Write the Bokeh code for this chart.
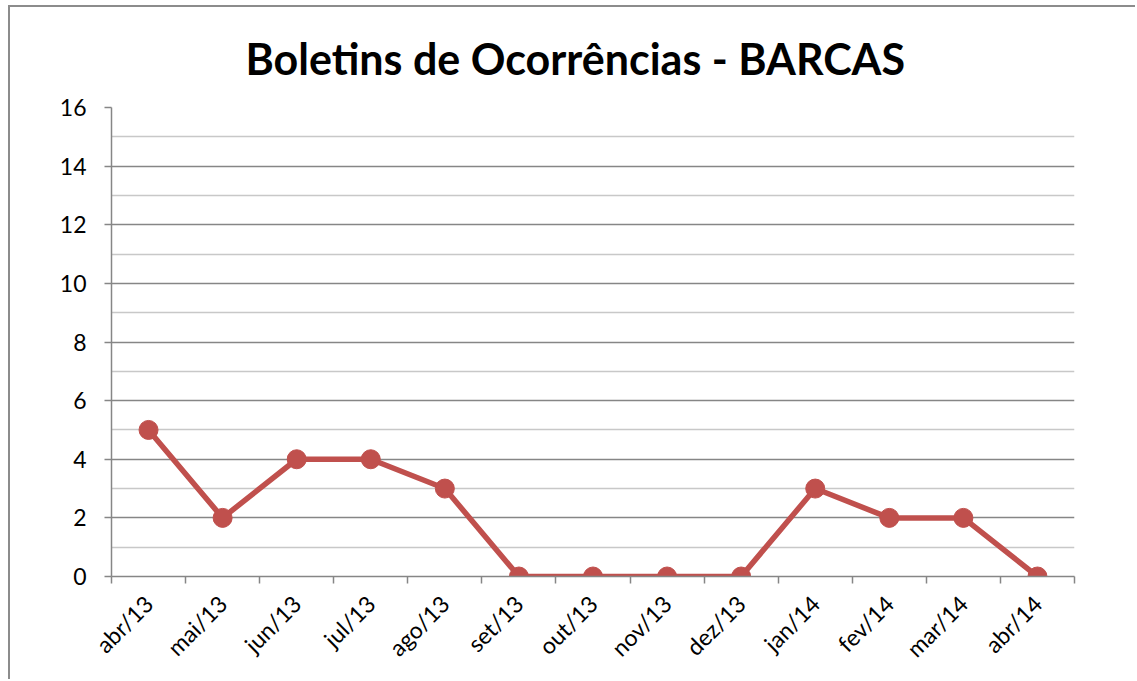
from bokeh.plotting import figure
from bokeh.models import Range1d, FixedTicker, Title
from bokeh.embed import file_html
from bokeh.resources import INLINE
import math

months = ["abr/13", "mai/13", "jun/13", "jul/13", "ago/13", "set/13", "out/13",
          "nov/13", "dez/13", "jan/14", "fev/14", "mar/14", "abr/14"]
values = [5, 2, 4, 4, 3, 0, 0, 0, 0, 3, 2, 2, 0]
y_major = [0, 2, 4, 6, 8, 10, 12, 14, 16]
y_minor = [1, 3, 5, 7, 9, 11, 13, 15]
title_text = "Boletins de Ocorrências - BARCAS"

FONT = "Lato"
RED = "#C0504D"
AXIS = "#868686"

xs = [i + 0.5 for i in range(len(months))]

p = figure(width=1127, height=674, output_backend="svg", toolbar_location=None,
           x_range=Range1d(0, len(months)), y_range=Range1d(0, 16),
           min_border_left=101, min_border_right=63, min_border_top=100,
           min_border_bottom=105)
p.outline_line_color = None
p.background_fill_color = "white"
p.border_fill_color = "white"
p.styles = {"margin-left": "8px", "margin-top": "5px",
            "border-left": "2px solid #8c8c8c", "border-top": "2px solid #8c8c8c"}

t = Title(text=title_text, align="left", offset=134, text_font=FONT,
          text_font_size="43px", text_font_style="bold", text_color="black",
          vertical_align="top", standoff=44)
p.add_layout(t, "above")

# y axis
p.yaxis.ticker = FixedTicker(ticks=y_major, minor_ticks=y_minor)
p.yaxis.axis_line_color = AXIS
p.yaxis.axis_line_width = 1.5
p.yaxis.major_tick_line_color = AXIS
p.yaxis.major_tick_line_width = 1.5
p.yaxis.major_tick_out = 7
p.yaxis.major_tick_in = 0
p.yaxis.minor_tick_line_color = None
p.yaxis.major_label_text_font = FONT
p.yaxis.major_label_text_font_size = "23px"
p.yaxis.major_label_text_color = "black"
p.yaxis.major_label_standoff = 18

p.ygrid.ticker = FixedTicker(ticks=y_major, minor_ticks=y_minor)
p.ygrid.grid_line_color = AXIS
p.ygrid.grid_line_width = 1.5
p.ygrid.minor_grid_line_color = "#C8C8C8"
p.ygrid.minor_grid_line_width = 1.5
p.xgrid.grid_line_color = None

# x axis: labels at centers, tick marks at category boundaries
p.xaxis.ticker = FixedTicker(ticks=xs, minor_ticks=list(range(len(months) + 1)))
p.xaxis.major_label_overrides = {x: m for x, m in zip(xs, months)}
p.xaxis.axis_line_color = AXIS
p.xaxis.axis_line_width = 1.5
p.xaxis.major_tick_line_color = None
p.xaxis.minor_tick_line_color = AXIS
p.xaxis.minor_tick_line_width = 1.5
p.xaxis.minor_tick_out = 7
p.xaxis.minor_tick_in = 0
p.xaxis.major_tick_out = 7
p.xaxis.major_tick_in = 0
p.xaxis.major_label_orientation = math.pi / 4
p.xaxis.major_label_text_font = FONT
p.xaxis.major_label_text_font_size = "23px"
p.xaxis.major_label_text_color = "black"
p.xaxis.major_label_standoff = 16

p.line(xs, values, line_color=RED, line_width=5.5)
p.scatter(xs, values, size=19, fill_color=RED, line_color=RED)

open("out.html", "w").write(file_html(p, INLINE))
